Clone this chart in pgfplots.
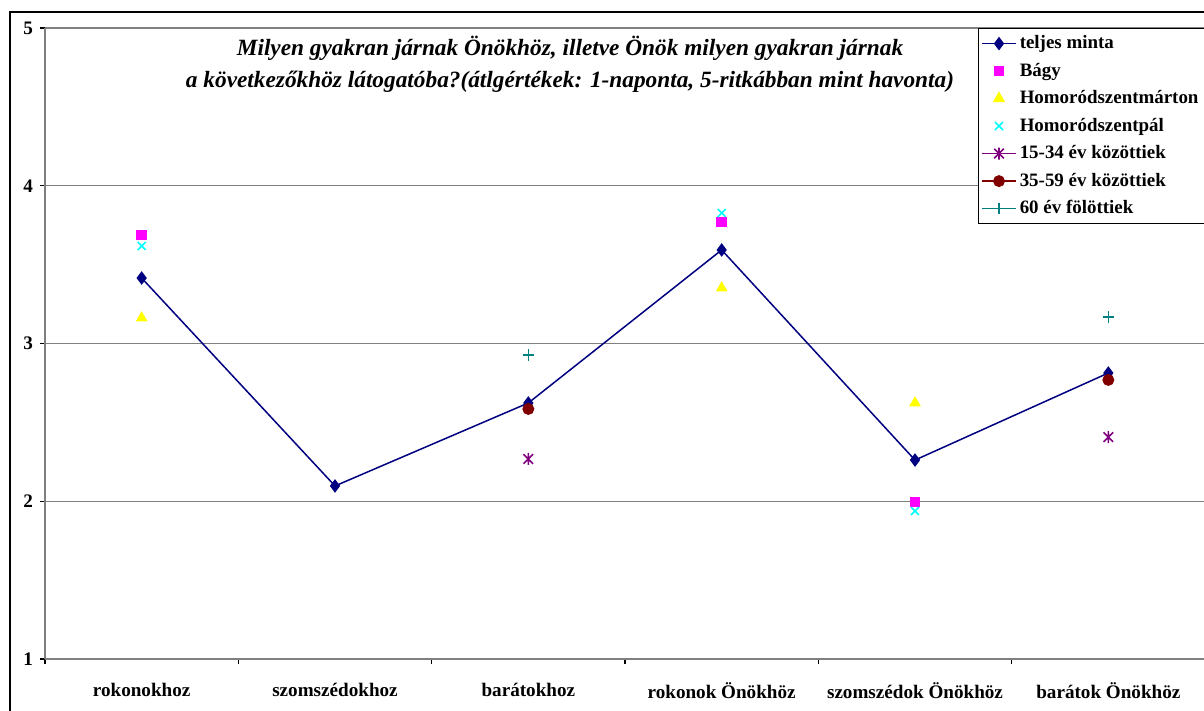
\documentclass[border=0pt]{standalone}
\usepackage{pgfplots}
\pgfplotsset{compat=1.18}
\usepackage{fontspec}
\setmainfont{Liberation Serif}
\definecolor{navyc}{RGB}{0,0,128}
\definecolor{magc}{RGB}{255,0,255}
\definecolor{yelc}{RGB}{255,255,0}
\definecolor{cyac}{RGB}{0,255,255}
\definecolor{purc}{RGB}{128,0,128}
\definecolor{redc}{RGB}{128,0,0}
\definecolor{teac}{RGB}{0,128,128}
\definecolor{gridc}{RGB}{128,128,128}
\pgfdeclareplotmark{xstar}{%
  \pgfpathmoveto{\pgfqpoint{-0.8\pgfplotmarksize}{-0.8\pgfplotmarksize}}%
  \pgfpathlineto{\pgfqpoint{0.8\pgfplotmarksize}{0.8\pgfplotmarksize}}%
  \pgfpathmoveto{\pgfqpoint{-0.8\pgfplotmarksize}{0.8\pgfplotmarksize}}%
  \pgfpathlineto{\pgfqpoint{0.8\pgfplotmarksize}{-0.8\pgfplotmarksize}}%
  \pgfpathmoveto{\pgfqpoint{0pt}{-\pgfplotmarksize}}%
  \pgfpathlineto{\pgfqpoint{0pt}{\pgfplotmarksize}}%
  \pgfusepathqstroke}
\begin{document}
\begin{tikzpicture}
\begin{axis}[
  at={(22.5bp,26bp)}, anchor=south west,
  width=580bp, height=315.5bp, scale only axis,
  xmin=-0.5, xmax=5.5, ymin=1, ymax=5,
  axis x line=bottom, axis y line=left,
  axis line style={gridc, line width=0.7bp, -},
  ytick={1,2,3,4,5},
  xtick={0,1,2,3,4,5},
  xticklabels={rokonokhoz,szomszédokhoz,barátokhoz,rokonok Önökhöz,szomszédok Önökhöz,barátok Önökhöz},
  minor xtick={-0.5,0.5,1.5,2.5,3.5,4.5,5.5},
  major x tick style={draw=none},
  tick align=outside,
  major tick length=2.5bp, minor tick length=2.5bp,
  tick style={black, line width=0.6bp},
  ymajorgrids, grid style={gridc, line width=0.7bp},
  /pgf/number format/assume math mode=true,
  ticklabel style={font=\bfseries\fontsize{9.6}{11}\selectfont},
  xticklabel style={yshift=-6bp},
  unbounded coords=jump,
  clip=false,
  legend style={at={(0.804,1)}, anchor=north west, draw=black, line width=0.6bp,
    font=\bfseries\fontsize{9.5}{11}\selectfont, cells={anchor=west},
    row sep=1.75bp, inner sep=1.5bp,
    nodes={inner sep=1.5bp, text height=7bp, text depth=2bp}},
]
\addplot[navyc, line width=0.75bp, mark=diamond*, mark size=2.8bp, mark options={fill=navyc, solid}]
  coordinates {(0,3.415) (1,2.097) (2,2.623) (3,3.593) (4,2.261) (5,2.813)};
\addlegendentry{teljes minta}
\addplot[only marks, mark=square*, mark size=2.4bp, magc, mark options={fill=magc}]
  coordinates {(0,3.688) (3,3.770) (4,1.995)};
\addlegendentry{Bágy}
\addplot[only marks, mark=triangle*, mark size=3bp, yelc, mark options={fill=yelc}]
  coordinates {(0,3.162) (3,3.352) (4,2.623)};
\addlegendentry{Homoródszentmárton}
\addplot[only marks, mark=x, mark size=2.8bp, cyac, mark options={line width=0.8bp}]
  coordinates {(0,3.618) (3,3.827) (4,1.938)};
\addlegendentry{Homoródszentpál}
\addplot[purc, line width=0.75bp, mark=xstar, mark size=3bp, mark options={solid, line width=0.8bp}]
  coordinates {(0,nan) (1,nan) (2,2.268) (3,nan) (4,nan) (5,2.407)};
\addlegendentry{15-34 év közöttiek}
\addplot[redc, line width=0.75bp, mark=*, mark size=2.6bp, mark options={fill=redc, solid}]
  coordinates {(0,nan) (1,nan) (2,2.585) (3,nan) (4,nan) (5,2.769)};
\addlegendentry{35-59 év közöttiek}
\addplot[teac, line width=0.75bp, mark=+, mark size=2.8bp, mark options={solid, line width=0.8bp}]
  coordinates {(0,nan) (1,nan) (2,2.927) (3,nan) (4,nan) (5,3.168)};
\addlegendentry{60 év fölöttiek}
\end{axis}
\node[align=center, font=\bfseries\itshape\fontsize{11.7}{16}\selectfont] at (285bp,323.5bp)
  {Milyen gyakran járnak Önökhöz, illetve Önök milyen gyakran járnak\\a következőkhöz látogatóba?(átlgértékek: 1-naponta, 5-ritkábban mint havonta)};
\draw[black, line width=0.8bp] (5bp,-20bp) rectangle (640bp,349.5bp);
\pgfresetboundingbox
\path (0,0) rectangle (602bp,355.5bp);
\end{tikzpicture}
\end{document}
